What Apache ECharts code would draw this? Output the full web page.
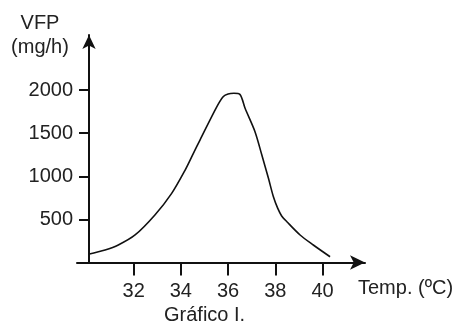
<!DOCTYPE html>
<html>
<head>
<meta charset="utf-8">
<script src="https://cdn.jsdelivr.net/npm/echarts@6/dist/echarts.min.js"></script>
<style>
  html, body { margin: 0; padding: 0; background: #fff; }
  #chart { width: 462px; height: 327px; }
</style>
</head>
<body>
<div id="chart"></div>
<script>
// temperatura (ºC) e VFP (mg/h)
const temps = [30.08, 30.79, 31.35, 32.06, 32.9, 33.61, 34.18, 34.53, 34.81, 35.52, 35.8, 36.0, 36.25, 36.5, 36.72, 37.14, 37.43, 37.71, 37.92, 38.1, 38.27, 38.49, 39.05, 39.61, 40.32];
const vfp   = [95, 145, 203, 319, 551, 802, 1072, 1266, 1420, 1805, 1925, 1955, 1962, 1950, 1788, 1517, 1246, 976, 762, 630, 540, 473, 319, 203, 67];
const xTicks = [32, 34, 36, 38, 40];
const yTicks = [500, 1000, 1500, 2000];

const font = "Liberation Sans, Arial, sans-serif";
const ink = "#222";

const points = temps.map((t, i) => [t, vfp[i]]);

const chart = echarts.init(document.getElementById("chart"));

const option = {
    animation: false,
    title: {
        text: "Gráfico I.",
        left: 164,
        top: 305,
        padding: 0,
        textStyle: { fontFamily: font, fontSize: 20, fontWeight: "normal", color: ink }
    },
    grid: { left: 77, right: 97, top: 35, bottom: 64.5 },
    xAxis: {
        type: "value",
        min: 29.6,
        max: 41.8,
        name: "Temp. (ºC)",
        nameLocation: "end",
        nameGap: -7,
        nameTextStyle: {
            fontFamily: font, fontSize: 20, color: ink,
            align: "left", verticalAlign: "top", padding: [16, 0, 0, 0]
        },
        splitLine: { show: false },
        axisLine: {
            lineStyle: { color: "#111", width: 2 },
            symbol: ["none", "arrow"],
            symbolSize: [11, 15]
        },
        axisTick: { length: 13, lineStyle: { color: "#111", width: 2 }, customValues: xTicks },
        axisLabel: {
            customValues: xTicks,
            margin: 19,
            fontFamily: font, fontSize: 20, color: ink
        }
    },
    yAxis: {
        type: "value",
        min: 0,
        max: 2638,
        offset: -12,
        name: "VFP\n(mg/h)",
        nameLocation: "end",
        nameGap: 0,
        nameTextStyle: {
            fontFamily: font, fontSize: 20, color: ink, lineHeight: 24,
            align: "center", verticalAlign: "middle", padding: [0, 98, 0, 0]
        },
        splitLine: { show: false },
        axisLine: {
            lineStyle: { color: "#111", width: 2 },
            symbol: ["none", "arrow"],
            symbolSize: [10, 14]
        },
        axisTick: { length: 10, lineStyle: { color: "#111", width: 2 }, customValues: yTicks },
        axisLabel: {
            customValues: yTicks,
            formatter: v => String(v),
            margin: 16,
            fontFamily: font, fontSize: 20, color: ink
        }
    },
    series: [
        {
            type: "line",
            data: points,
            smooth: 0.3,
            symbol: "none",
            lineStyle: { color: "#111", width: 1.6 }
        }
    ]
};
chart.setOption(option);
</script>
</body>
</html>
